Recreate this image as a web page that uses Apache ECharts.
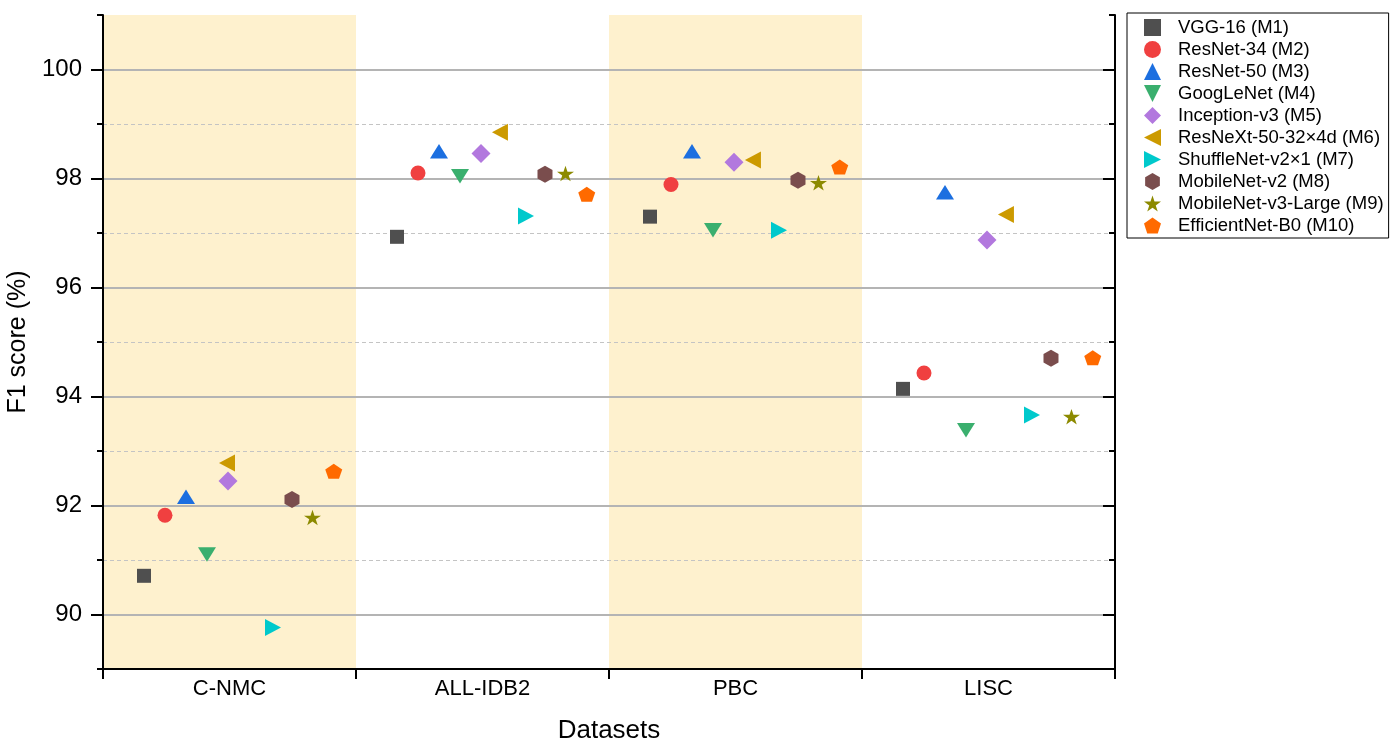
<!DOCTYPE html>
<html><head><meta charset="utf-8">
<script src="https://cdn.jsdelivr.net/npm/echarts@6/dist/echarts.min.js"></script>
<style>html,body{margin:0;padding:0;background:#fff}#chart{width:1391px;height:740px}</style>
</head><body><div id="chart"></div>
<script>
// ---- data ----
const categories = ['C-NMC', 'ALL-IDB2', 'PBC', 'LISC'];
const models = ['VGG-16 (M1)', 'ResNet-34 (M2)', 'ResNet-50 (M3)', 'GoogLeNet (M4)', 'Inception-v3 (M5)',
  'ResNeXt-50-32×4d (M6)', 'ShuffleNet-v2×1 (M7)', 'MobileNet-v2 (M8)', 'MobileNet-v3-Large (M9)', 'EfficientNet-B0 (M10)'];
// F1 score (%) per dataset, order: C-NMC, ALL-IDB2, PBC, LISC
const vgg16        = [90.71, 96.93, 97.30, 94.14];
const resnet34     = [91.82, 98.10, 97.89, 94.43];
const resnet50     = [92.16, 98.50, 98.50, 97.75];
const googlenet    = [91.10, 98.04, 97.05, 93.38];
const inceptionV3  = [92.45, 98.46, 98.30, 96.87];
const resnext50    = [92.78, 98.85, 98.34, 97.34];
const shufflenetV2 = [89.76, 97.31, 97.05, 93.66];
const mobilenetV2  = [92.11, 98.08, 97.97, 94.70];
const mobilenetV3L = [91.78, 98.09, 97.92, 93.63];
const efficientB0  = [92.63, 97.71, 98.21, 94.71];
const yTickLabels = [90, 92, 94, 96, 98, 100];
const yMinorGrid = [91, 93, 95, 97, 99];

// ---- layout / style ----
const values = [vgg16, resnet34, resnet50, googlenet, inceptionV3, resnext50, shufflenetV2, mobilenetV2, mobilenetV3L, efficientB0];
const slotOffsets = [0.162, 0.245, 0.328, 0.411, 0.494, 0.569, 0.672, 0.747, 0.828, 0.912];
const slotOverride = { '5-0': 0.49 };
const colors = ['#4F4F4F', '#F04040', '#1C6FE0', '#3AAF6E', '#B278DE', '#CC9A00', '#00C9CC', '#7A4D4D', '#8C8A00', '#FF6A00'];
const symbols = [
  'rect', 'circle', 'triangle',
  'path://M0,0 L2,0 L1,2 Z',
  'diamond',
  'path://M2,0 L2,2 L0,1 Z',
  'path://M0,0 L2,1 L0,2 Z',
  'path://M1,0 L1.866,0.5 L1.866,1.5 L1,2 L0.134,1.5 L0.134,0.5 Z',
  'path://M1,0 L1.2245,0.691 L1.9511,0.691 L1.3633,1.118 L1.5878,1.809 L1,1.382 L0.4122,1.809 L0.6367,1.118 L0.0489,0.691 L0.7755,0.691 Z',
  'path://M1,0 L1.9511,0.691 L1.5878,1.809 L0.4122,1.809 L0.0489,0.691 Z'
];
const sizes = [14, 15, [18, 14.5], [18, 14.5], [19, 19], [16, 17], [16, 17], [15, 17], [17, 15.5], [17, 15]];
const FONT = 'Liberation Sans, Arial, Helvetica, sans-serif';
const band = '#FEF1CE';

const chart = echarts.init(document.getElementById('chart'), null, { renderer: 'canvas' });

const scatterSeries = models.map((name, i) => ({
  type: 'scatter', name, xAxisIndex: 1, yAxisIndex: 0, z: 5,
  symbol: symbols[i], symbolSize: sizes[i],
  itemStyle: { color: colors[i], opacity: 1 },
  emphasis: { disabled: true },
  data: values[i].map((v, c) => [c + (slotOverride[i + '-' + c] !== undefined ? slotOverride[i + '-' + c] : slotOffsets[i]), v])
}));

const option = {
  animation: false,
  backgroundColor: '#fff',
  textStyle: { fontFamily: FONT, color: '#000' },
  grid: { left: 103, right: 276, top: 15, bottom: 71, outerBoundsMode: 'none', containLabel: false },
  legend: {
    orient: 'vertical', left: 1127, top: 13, padding: [5, 5, 3, 17], itemGap: 3,
    itemWidth: 17, itemHeight: 17, borderColor: '#000', borderWidth: 1, borderRadius: 0,
    backgroundColor: '#fff', selectedMode: false, data: models,
    formatter: n => '{t|' + n + '}',
    textStyle: { color: '#000', fontSize: 18.5, fontFamily: FONT,
      rich: { t: { fontSize: 18.5, padding: [0, 0, 0, 12], color: '#000', fontFamily: FONT } } }
  },
  xAxis: [
    {
      type: 'category', data: categories, position: 'bottom', boundaryGap: true, z: 10,
      axisLine: { show: true, onZero: false, lineStyle: { color: '#000', width: 2 } },
      axisTick: { show: true, length: 10, alignWithLabel: false, interval: 0, lineStyle: { color: '#000', width: 2 } },
      axisLabel: { fontSize: 22, color: '#000', margin: 9, interval: 0, fontFamily: FONT },
      splitLine: { show: false }, splitArea: { show: false },
      name: 'Datasets', nameLocation: 'middle', nameGap: 49,
      nameTextStyle: { fontSize: 26, color: '#000', fontFamily: FONT }
    },
    { type: 'value', min: 0, max: 4, show: false, position: 'bottom' }
  ],
  yAxis: [
    {
      type: 'value', position: 'left', min: 89, max: 101, interval: 1, z: 10,
      axisLine: { show: true, onZero: false, lineStyle: { color: '#000', width: 2 } },
      axisTick: { show: true, length: 6, lineStyle: { color: '#000', width: 2 } },
      axisLabel: { show: false }, splitLine: { show: false }
    },
    {
      type: 'value', position: 'left', min: 89, max: 101, z: 10,
      name: 'F1 score (%)', nameLocation: 'middle', nameGap: 64,
      nameTextStyle: { fontSize: 25, color: '#000', fontFamily: FONT },
      axisLine: { show: false },
      axisTick: { show: true, length: 12, customValues: yTickLabels, lineStyle: { color: '#000', width: 2 } },
      axisLabel: { show: true, customValues: yTickLabels, fontSize: 24, color: '#000', margin: 21, fontFamily: FONT },
      splitLine: { show: false }
    },
    {
      type: 'value', position: 'right', min: 89, max: 101, interval: 1, z: 10,
      axisLine: { show: true, onZero: false, lineStyle: { color: '#000', width: 2 } },
      axisTick: { show: true, inside: true, length: 6, lineStyle: { color: '#000', width: 2 } },
      axisLabel: { show: false }, splitLine: { show: false }
    },
    {
      type: 'value', position: 'right', min: 89, max: 101, z: 10,
      axisLine: { show: false },
      axisTick: { show: true, inside: true, length: 12, customValues: yTickLabels, lineStyle: { color: '#000', width: 2 } },
      axisLabel: { show: false }, splitLine: { show: false }
    }
  ],
  series: [
    {
      type: 'scatter', name: '_bands', xAxisIndex: 1, yAxisIndex: 0, z: 1, data: [], silent: true,
      markArea: {
        silent: true, itemStyle: { color: band, opacity: 1 }, label: { show: false },
        data: [[{ xAxis: 0 }, { xAxis: 1 }], [{ xAxis: 2 }, { xAxis: 3 }]]
      }
    },
    {
      type: 'scatter', name: '_grid', xAxisIndex: 1, yAxisIndex: 0, z: 2, data: [], silent: true,
      markLine: {
        silent: true, symbol: ['none', 'none'], label: { show: false }, animation: false,
        data: [
          ...yMinorGrid.map(v => ({ yAxis: v, lineStyle: { color: '#C4C4C4', width: 1, type: [4, 3] } })),
          ...yTickLabels.map(v => ({ yAxis: v, lineStyle: { color: '#B4B4B4', width: 2, type: 'solid' } }))
        ]
      }
    },
    ...scatterSeries
  ]
};
chart.setOption(option);
</script>
</body></html>
